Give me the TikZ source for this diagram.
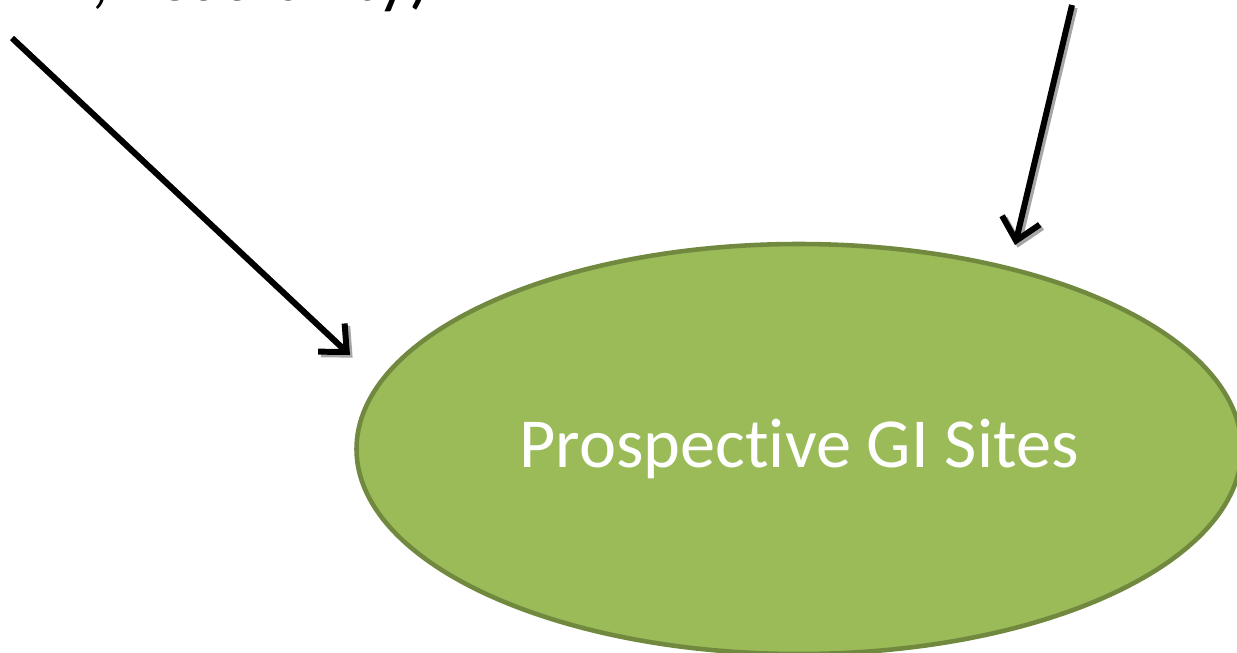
\documentclass[tikz,border=0pt]{standalone}
\usepackage{fontspec}
\setmainfont{Carlito}[Ligatures=NoCommon]
\usetikzlibrary{shapes.geometric,arrows.meta}
\definecolor{gifill}{HTML}{9BBB59}
\definecolor{giedge}{HTML}{71893F}
\tikzset{
  sitenode/.style={ellipse,fill=gifill,draw=giedge,line width=2.6pt,
    minimum width=17.7cm,minimum height=8.2cm,text=white,font=\fontsize{40}{48}\selectfont},
  feedarrow/.style={line width=3.4pt,-{Straight Barb[length=12pt,width=22pt,line width=3.4pt]},
    preaction={draw=gray!70,line width=3.4pt,transform canvas={shift={(1.5pt,-1.5pt)}}}}
}
\begin{document}
\begin{tikzpicture}
  \useasboundingbox (0,0) rectangle (24.74,-13.04);
  \clip (0,0) rectangle (24.74,-13.04);
  \node[sitenode] (sites) at (15.98,-8.98) {Prospective GI Sites};
  \node[anchor=base east,font=\fontsize{40}{48}\selectfont,inner sep=0pt] (will) at (8.62,0.0) {(Political Will, Feasibility)};
  \coordinate (s1) at (0.24,-0.76);
  \coordinate (e1) at (7.0,-7.1);
  \coordinate (s2) at (21.44,-0.1);
  \coordinate (e2) at (20.3,-4.9);
  \draw[feedarrow] (s1) -- (e1);
  \draw[feedarrow] (s2) -- (e2);
\end{tikzpicture}
\end{document}
